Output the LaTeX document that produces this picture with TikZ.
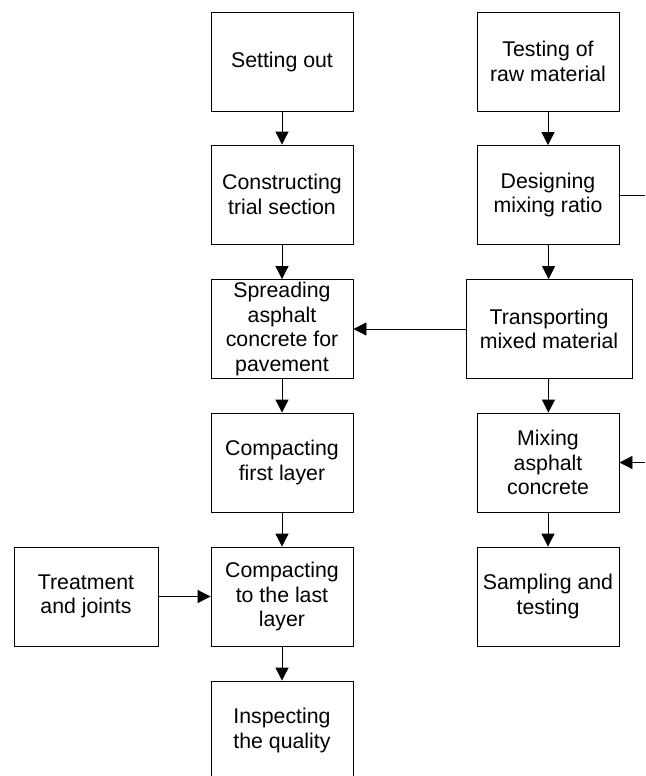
\documentclass[tikz,border=0pt]{standalone}
\usepackage{fontspec}
\setmainfont{Liberation Sans}
\usetikzlibrary{arrows.meta}

\begin{document}
\begin{tikzpicture}[x=1pt, y=-1pt, line width=0.8pt,
  procbox/.style={draw, align=center, minimum width=142pt, minimum height=99pt,
    inner sep=2pt, font=\fontsize{21.3}{24.5}\selectfont},
  flow/.style={-{Triangle[length=13pt, width=13pt]}}]
\useasboundingbox (0,0) rectangle (645,776);
% left column
\node[procbox] (setting) at (282,61.5) {Setting out};
\node[procbox] (trial) at (282,194.5) {Constructing\\trial section};
\node[procbox] (spread) at (282,329) {Spreading\\asphalt\\concrete for\\pavement};
\node[procbox] (first) at (282,462.5) {Compacting\\first layer};
\node[procbox] (last) at (282,596.5) {Compacting\\to the last\\layer};
\node[procbox] (inspect) at (282,730.5) {Inspecting\\the quality};
\node[procbox, minimum width=144pt] (treat) at (86,596.5) {Treatment\\and joints};
% right column
\node[procbox] (testing) at (548,61.5) {Testing of\\raw material};
\node[procbox] (design) at (548,195) {Designing\\mixing ratio};
\node[procbox, minimum width=166pt] (transport) at (549,329) {Transporting\\mixed material};
\node[procbox] (mixing) at (548,462.5) {Mixing\\asphalt\\concrete};
\node[procbox] (sampling) at (548,596.5) {Sampling and\\testing};
\coordinate (loopout) at (645,195);
\coordinate (loopin) at (645,462.5);

\draw[flow] (setting) -- (trial);
\draw[flow] (trial) -- (spread);
\draw[flow] (spread) -- (first);
\draw[flow] (first) -- (last);
\draw[flow] (last) -- (inspect);
\draw[flow] (treat) -- (last);
\draw[flow] (testing) -- (design);
\draw[flow] (design) -- (transport);
\draw[flow] (transport) -- (spread);
\draw[flow] (transport) -- (mixing);
\draw[flow] (mixing) -- (sampling);
\draw (design.east) -- (loopout);
\draw[flow] (loopin) -- (mixing.east);
\end{tikzpicture}
\end{document}
